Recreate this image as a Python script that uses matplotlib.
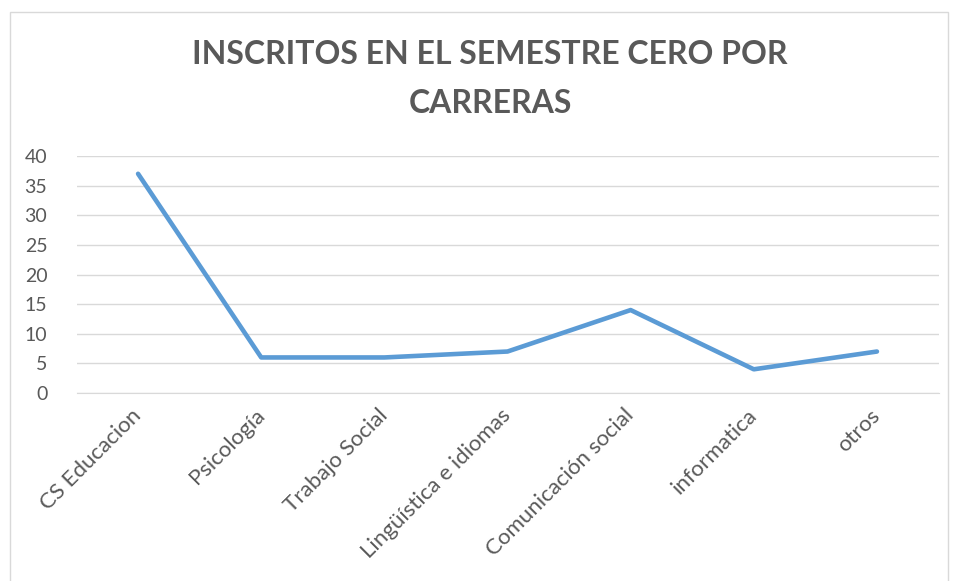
import matplotlib
matplotlib.use("Agg")
import matplotlib.pyplot as plt
from matplotlib.patches import Rectangle

categories = ["CS Educacion", "Psicología", "Trabajo Social", "Lingüística e idiomas",
              "Comunicación social", "informatica", "otros"]
values = [37, 6, 6, 7, 14, 4, 7]
yticks = [0, 5, 10, 15, 20, 25, 30, 35, 40]
title = "INSCRITOS EN EL SEMESTRE CERO POR\nCARRERAS"

plt.rcParams['font.family'] = ['Lato', 'DejaVu Sans']
W, H = 955, 581
fig = plt.figure(figsize=(W/100, H/100), dpi=100)
fig.patches.append(Rectangle((10/W, -0.1), (948-10)/W, 1.1 - 12/H, transform=fig.transFigure,
                             fill=False, edgecolor='#D9D9D9', linewidth=1))
ax = fig.add_axes([76.5/W, 1-393/H, (938.5-76.5)/W, (393-156)/H])
x = list(range(len(categories)))
ax.plot(x, values, color='#5B9BD5', linewidth=3.3, solid_capstyle='round', solid_joinstyle='round', zorder=3)
ax.set_xlim(-0.5, len(categories)-0.5)
ax.set_ylim(0, 40)
ax.set_yticks(yticks)
ax.set_yticklabels([str(v) for v in yticks], color='#595959', fontsize=14)
ax.yaxis.grid(True, color='#D9D9D9', linewidth=1)
ax.set_axisbelow(True)
ax.tick_params(axis='both', length=0)
ax.tick_params(axis='y', pad=21)
ax.set_xticks(x)
ax.set_xticklabels(categories, rotation=45, ha='right', va='center', rotation_mode='anchor',
                   color='#595959', fontsize=16)
ax.tick_params(axis='x', pad=14)
for s in ['top', 'right', 'left']:
    ax.spines[s].set_visible(False)
ax.spines['bottom'].set_color('#D9D9D9')
fig.text(490/W, 1-79/H, title, ha='center', va='center', fontsize=23, fontweight='bold',
         color='#595959', linespacing=1.8)
fig.savefig('out.png', dpi=100)
